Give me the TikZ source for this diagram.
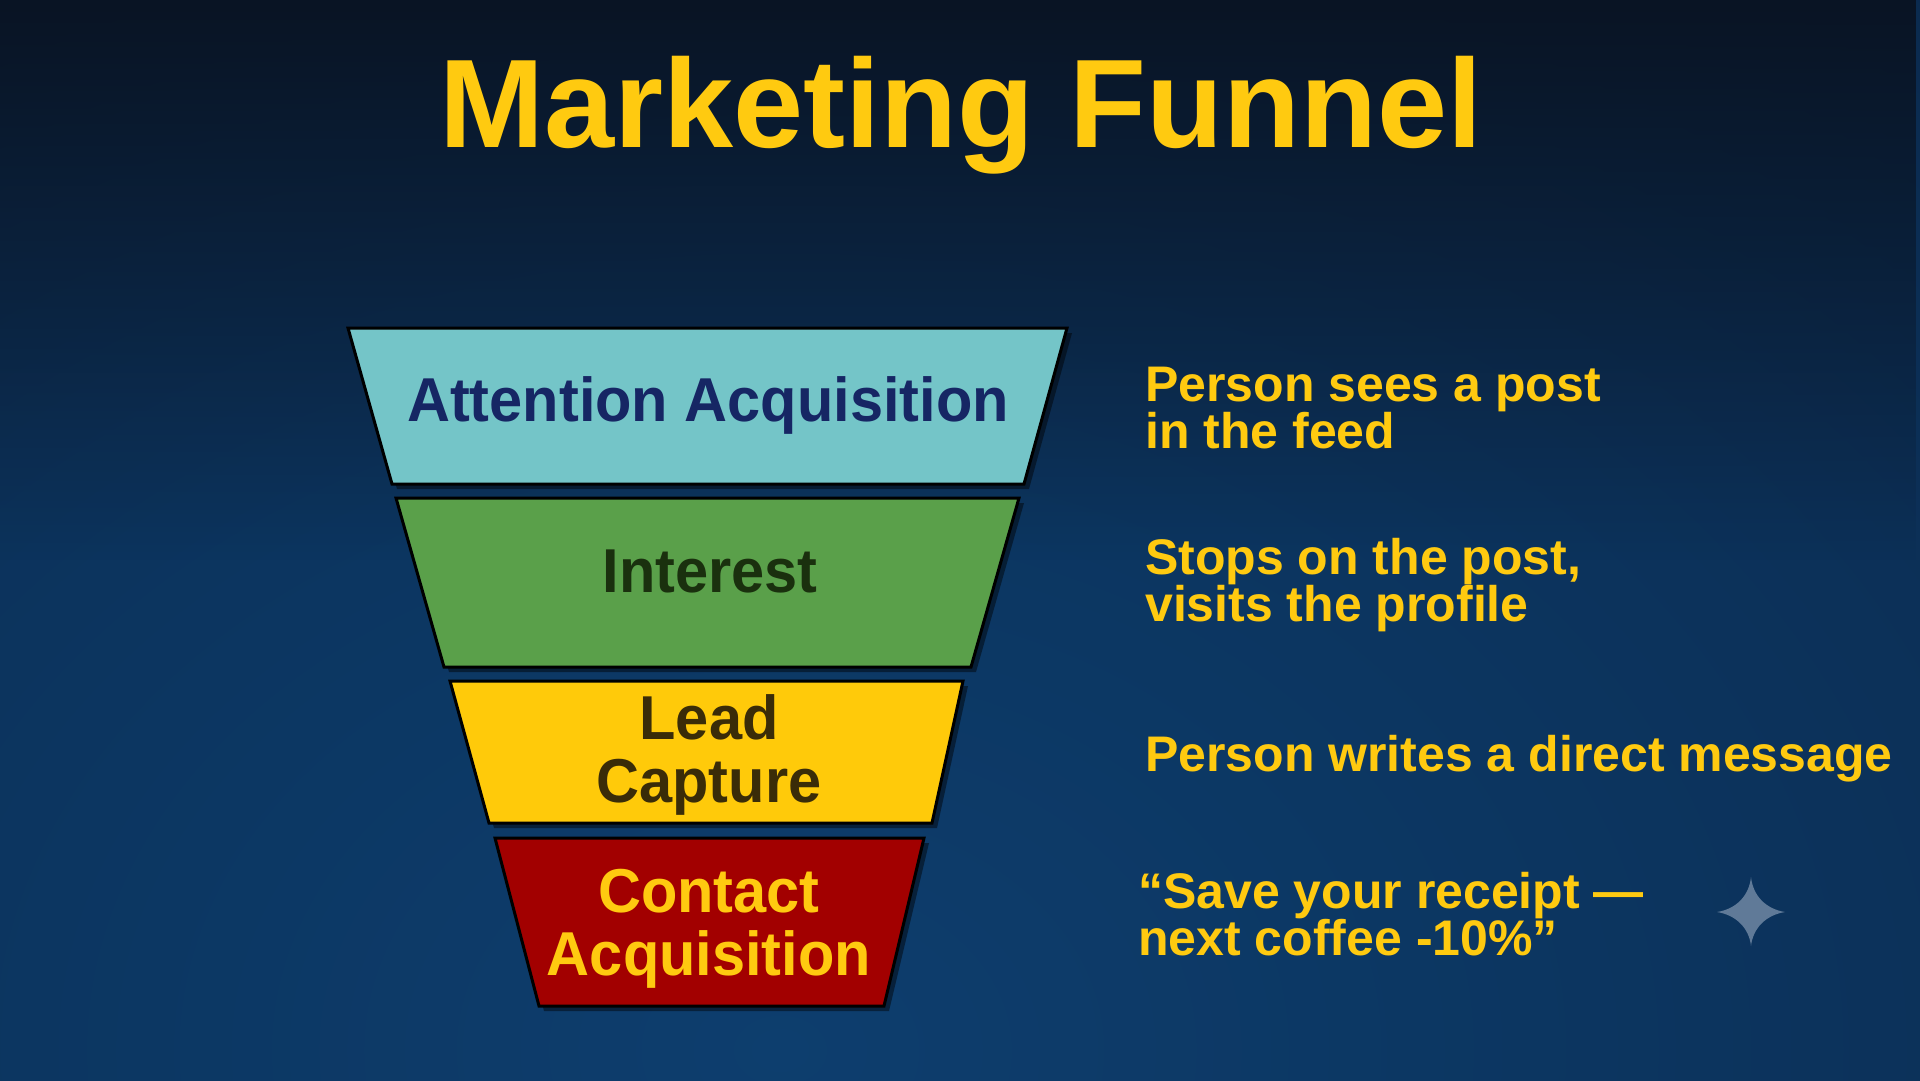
\documentclass[tikz,border=0pt]{standalone}
\usepackage{fontspec}
\usetikzlibrary{fadings}
\setmainfont{Liberation Sans}
\definecolor{bgin}{RGB}{13,62,110}
\definecolor{bgmid}{RGB}{11,42,78}
\definecolor{bgout}{RGB}{8,19,34}
\definecolor{bgtop}{RGB}{9,20,36}
\definecolor{cyanband}{RGB}{116,197,200}
\definecolor{greenband}{RGB}{90,160,74}
\definecolor{yellowband}{RGB}{255,202,10}
\definecolor{redband}{RGB}{162,0,0}
\definecolor{navytext}{RGB}{22,38,100}
\definecolor{greentext}{RGB}{26,48,14}
\definecolor{browntext}{RGB}{58,44,8}
\definecolor{gold}{RGB}{255,202,16}
\definecolor{sparkcol}{RGB}{96,122,152}
\pgfdeclareradialshading{bgrad}{\pgfpointorigin}{color(0bp)=(bgin); color(33bp)=(bgmid); color(50bp)=(bgout)}
\newcommand\cz[1]{\scalebox{0.96}[1]{#1}}
\tikzset{
  band/.style={draw=black, line width=3pt, line join=miter},
  bandshadow/.style={fill=black, fill opacity=0.45},
  stagelabel/.style={font=\bfseries\fontsize{62}{63}\selectfont, align=center, inner sep=0pt, anchor=base},
  note/.style={font=\bfseries\fontsize{50}{47}\selectfont, text=gold, align=left, inner sep=0pt, anchor=base west},
  titletext/.style={font=\bfseries\fontsize{126}{126}\selectfont, text=gold, inner sep=0pt, anchor=base},
}
\begin{document}
\begin{tikzpicture}[x=1pt,y=-1pt]
\useasboundingbox (0,0) rectangle (1920,1080);
% background
\begin{scope}
\clip (0,0) rectangle (1920,1080);
\fill[bgout] (0,0) rectangle (1920,1080);
\shade[shading=bgrad] (-620,0) rectangle (2180,2100);
\fill[bgtop, path fading=south] (0,0) rectangle (1920,560);
\end{scope}

% title
\node[titletext] (title) at (961,147) {Marketing Funnel};

% funnel shadows
\begin{scope}[shift={(5,5)}]
\fill[bandshadow] (348,328) -- (1067,328) -- (1024,484) -- (392,484) -- cycle;
\fill[bandshadow] (396,498) -- (1019,498) -- (971,667) -- (444,667) -- cycle;
\fill[bandshadow] (450,681) -- (963,681) -- (932,823) -- (489,823) -- cycle;
\fill[bandshadow] (495,838) -- (924,838) -- (884,1006) -- (539,1006) -- cycle;
\end{scope}

% funnel bands
\filldraw[band, fill=cyanband] (348,328) -- (1067,328) -- (1024,484) -- (392,484) -- cycle;
\filldraw[band, fill=greenband] (396,498) -- (1019,498) -- (971,667) -- (444,667) -- cycle;
\filldraw[band, fill=yellowband] (450,681) -- (963,681) -- (932,823) -- (489,823) -- cycle;
\filldraw[band, fill=redband] (495,838) -- (924,838) -- (884,1006) -- (539,1006) -- cycle;

% stage labels (base anchor = baseline of last line)
\node[stagelabel, text=navytext] (attention) at (708,421) {\cz{Attention Acquisition}};
\node[stagelabel, text=greentext] (interest) at (710,592) {\cz{Interest}};
\node[stagelabel, text=browntext] (lead) at (709,802) {\cz{Lead}\\\cz{Capture}};
\node[stagelabel, text=gold] (contact) at (709,975) {\cz{Contact}\\\cz{Acquisition}};

% notes
\node[note] (n1) at (1145,448) {Person sees a post\\in the feed};
\node[note] (n2) at (1145,621) {Stops on the post,\\visits the profile};
\node[note] (n3) at (1145,771) {Person writes a direct message};
\node[note] (n4) at (1138,955) {“Save your receipt —\\next coffee -10\%”};

% sparkle
\fill[sparkcol] (1751,877) .. controls (1753,896) and (1766,909) .. (1785,912)
  .. controls (1766,915) and (1753,928) .. (1751,946)
  .. controls (1749,928) and (1736,915) .. (1717,912)
  .. controls (1736,909) and (1749,896) .. (1751,877) -- cycle;
\end{tikzpicture}
\end{document}
